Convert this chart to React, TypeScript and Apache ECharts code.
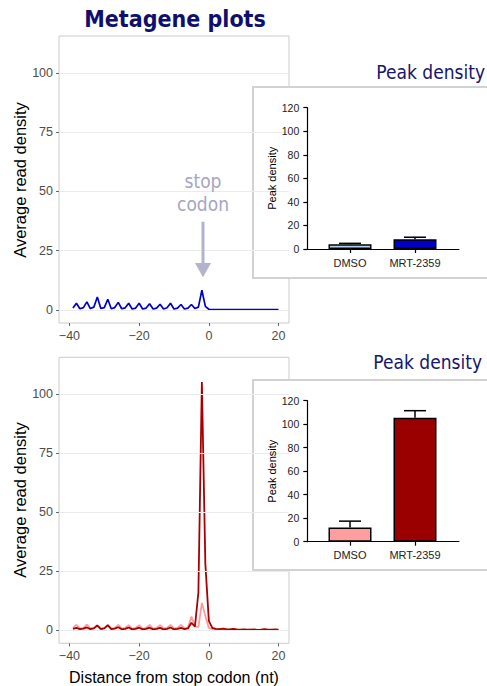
import React, { useEffect, useRef } from "react";
import * as echarts from "echarts";

// ---------- data ----------
const positions = [
  -39, -38, -37, -36, -35, -34, -33, -32, -31, -30, -29, -28, -27, -26, -25, -24, -23, -22, -21, -20,
  -19, -18, -17, -16, -15, -14, -13, -12, -11, -10, -9, -8, -7, -6, -5, -4, -3, -2, -1, 0,
  1, 2, 3, 4, 5, 6, 7, 8, 9, 10, 11, 12, 13, 14, 15, 16, 17, 18, 19, 20,
];
const topBlue = [
  0.8, 2.8, 0.5, 1.0, 3.4, 0.6, 1.2, 5.5, 0.6, 1.0, 4.5, 0.5, 1.0, 3.2, 0.5, 0.9, 2.8, 0.4, 0.8, 2.8,
  0.4, 0.8, 2.6, 0.4, 0.8, 2.4, 0.4, 0.9, 2.8, 0.4, 0.8, 2.3, 0.4, 0.8, 2.3, 0.6, 1.2, 8.3, 1.5, 0.3,
  0.2, 0.2, 0.15, 0.2, 0.15, 0.1, 0.15, 0.1, 0.15, 0.1, 0.1, 0.15, 0.1, 0.1, 0.1, 0.15, 0.1, 0.1, 0.1, 0.1,
];
const bottomDMSO = [
  1.0, 2.3, 0.8, 1.0, 2.4, 0.8, 1.0, 2.2, 0.8, 1.0, 2.0, 0.8, 1.0, 2.3, 0.8, 1.0, 2.2, 0.7, 1.0, 2.2,
  0.7, 1.0, 2.3, 0.7, 1.0, 2.2, 0.8, 1.0, 2.3, 0.8, 1.0, 2.3, 0.8, 1.2, 5.8, 1.8, 1.3, 11.6, 6.0, 1.0,
  0.5, 0.4, 0.3, 0.4, 0.3, 0.3, 0.3, 0.3, 0.2, 0.3, 0.2, 0.3, 0.2, 0.2, 0.3, 0.2, 0.2, 0.2, 0.2, 0.2,
];
const bottomMRT = [
  0.6, 1.0, 0.5, 0.7, 1.2, 0.5, 0.8, 2.0, 0.5, 0.8, 2.2, 0.5, 0.7, 1.3, 0.4, 0.6, 1.2, 0.4, 0.6, 1.1,
  0.4, 0.6, 1.1, 0.4, 0.6, 1.0, 0.4, 0.6, 1.2, 0.4, 0.6, 1.0, 0.5, 0.8, 3.2, 1.5, 16, 105, 28, 4.0,
  1.0, 0.6, 0.5, 0.7, 0.5, 0.4, 0.6, 0.4, 0.3, 0.4, 0.3, 0.3, 0.4, 0.2, 0.3, 0.5, 0.3, 0.3, 0.4, 0.3,
];
const lineXTicks = [-40, -20, 0, 20];
const lineYTicks = [0, 25, 50, 75, 100];

const barCategories = ["DMSO", "MRT-2359"];
const topBarMeans = [4.0, 8.2];
const topBarUpper = [4.8, 10.0];
const bottomBarMeans = [12.0, 105.5];
const bottomBarUpper = [17.5, 111.5];
const barYTicks = [0, 20, 40, 60, 80, 100, 120];

// ---------- styles ----------
const TITLE_FONT = '"DejaVu Sans Condensed", "DejaVu Sans", sans-serif';
const ARIAL = '"Liberation Sans", Arial, sans-serif';
const NAVY = "#0f0f6e";

const fmtMinus = (v: number) => (v < 0 ? "\u2212" + Math.abs(v) : String(v));

function lineXAxis(gridIndex: number) {
  return {
    type: "value",
    gridIndex,
    min: -43,
    max: 23,
    axisLine: { show: false, onZero: false },
    splitLine: { show: false },
    axisTick: { show: true, customValues: lineXTicks, length: 3, lineStyle: { color: "#666" } },
    axisLabel: {
      customValues: lineXTicks,
      formatter: fmtMinus,
      fontSize: 12.5,
      color: "#4d4d4d",
      fontFamily: ARIAL,
      margin: 6,
    },
  };
}
function lineYAxis(gridIndex: number) {
  return {
    type: "value",
    gridIndex,
    min: -5.5,
    max: 115.5,
    axisLine: { show: false, onZero: false },
    splitLine: { show: false },
    axisTick: { show: true, customValues: lineYTicks, length: 3, lineStyle: { color: "#666" } },
    axisLabel: {
      customValues: lineYTicks,
      fontSize: 12.5,
      color: "#4d4d4d",
      fontFamily: ARIAL,
      margin: 6,
    },
  };
}
function barXAxis(gridIndex: number) {
  return {
    type: "value",
    gridIndex,
    min: 0.343,
    max: 2.677,
    z: 10,
    axisLine: { show: true, onZero: false, lineStyle: { color: "#000", width: 1.2 } },
    splitLine: { show: false },
    axisTick: { show: true, customValues: [1, 2], length: 4, lineStyle: { color: "#000", width: 1.2 } },
    axisLabel: {
      customValues: [1, 2],
      formatter: (v: number) => barCategories[Math.round(v) - 1] ?? "",
      fontSize: 11,
      color: "#222",
      fontFamily: ARIAL,
      margin: 8,
    },
  };
}
function barYAxis(gridIndex: number) {
  return {
    type: "value",
    gridIndex,
    min: 0,
    max: 120,
    interval: 20,
    z: 10,
    axisLine: { show: true, onZero: false, lineStyle: { color: "#000", width: 1.2 } },
    splitLine: { show: false },
    axisTick: { show: true, length: 4, lineStyle: { color: "#000", width: 1.2 } },
    axisLabel: { fontSize: 10.5, color: "#222", fontFamily: ARIAL, margin: 8 },
  };
}

function gridLineSeries(xi: number, yi: number) {
  return {
    type: "line",
    xAxisIndex: xi,
    yAxisIndex: yi,
    data: [],
    z: 1,
    silent: true,
    markLine: {
      silent: true,
      symbol: ["none", "none"],
      label: { show: false },
      lineStyle: { color: "#ebebeb", width: 1, type: "solid" },
      emphasis: { disabled: true },
      data: lineYTicks.map((v) => ({ yAxis: v })),
    },
  };
}

function pairs(ys: number[]) {
  return positions.map((x, i) => [x, ys[i]]);
}

function errorSeries(xi: number, yi: number, means: number[], upper: number[]) {
  return {
    type: "custom",
    xAxisIndex: xi,
    yAxisIndex: yi,
    z: 11,
    silent: true,
    data: means.map((m, i) => [i + 1, m, upper[i]]),
    renderItem: (params: any, api: any) => {
      const x = api.value(0);
      const lo = api.coord([x, api.value(1)]);
      const hi = api.coord([x, api.value(2)]);
      const half = 11;
      const st = { stroke: "#000", lineWidth: 1.5 };
      return {
        type: "group",
        children: [
          { type: "line", shape: { x1: lo[0], y1: lo[1], x2: hi[0], y2: hi[1] }, style: st },
          { type: "line", shape: { x1: hi[0] - half, y1: hi[1], x2: hi[0] + half, y2: hi[1] }, style: st },
        ],
      };
    },
  };
}

function barSeries(xi: number, yi: number, means: number[], colors: string[]) {
  return {
    type: "bar",
    xAxisIndex: xi,
    yAxisIndex: yi,
    z: 10,
    barWidth: 43,
    data: means.map((m, i) => ({
      value: [i + 1, m],
      itemStyle: { color: colors[i], borderColor: "#000", borderWidth: 1.5 },
    })),
  };
}

export default function App() {
  const ref = useRef<HTMLDivElement>(null);
  useEffect(() => {
    if (!ref.current) return;
    const chart = echarts.init(ref.current, undefined, { renderer: "svg" });
    const option: any = {
      animation: false,
      backgroundColor: "#ffffff",
      grid: [
        { left: 59, top: 36, width: 230, height: 287, show: true, borderColor: "#cccccc", borderWidth: 1, backgroundColor: "transparent" },
        { left: 59, top: 357.3, width: 230, height: 286, show: true, borderColor: "#cccccc", borderWidth: 1, backgroundColor: "transparent" },
        { left: 307.3, top: 107.7, width: 151.7, height: 141.3 },
        { left: 307.3, top: 400.7, width: 151.7, height: 141 },
      ],
      xAxis: [lineXAxis(0), lineXAxis(1), barXAxis(2), barXAxis(3)],
      yAxis: [lineYAxis(0), lineYAxis(1), barYAxis(2), barYAxis(3)],
      series: [
        gridLineSeries(0, 0),
        gridLineSeries(1, 1),
        {
          type: "line",
          xAxisIndex: 0,
          yAxisIndex: 0,
          z: 3,
          showSymbol: false,
          data: pairs(topBlue),
          lineStyle: { color: "#0000cd", width: 1.7 },
        },
        {
          type: "line",
          xAxisIndex: 1,
          yAxisIndex: 1,
          z: 3,
          showSymbol: false,
          data: pairs(bottomDMSO),
          lineStyle: { color: "#ff9a9a", width: 1.8 },
        },
        {
          type: "line",
          xAxisIndex: 1,
          yAxisIndex: 1,
          z: 4,
          showSymbol: false,
          data: pairs(bottomMRT),
          lineStyle: { color: "#a80000", width: 1.8 },
        },
        barSeries(2, 2, topBarMeans, ["#b7d2f0", "#0000c8"]),
        errorSeries(2, 2, topBarMeans, topBarUpper),
        barSeries(3, 3, bottomBarMeans, ["#ff9e9e", "#9b0000"]),
        errorSeries(3, 3, bottomBarMeans, bottomBarUpper),
      ],
      graphic: [
        {
          type: "text",
          x: 175,
          y: 19,
          z: 20,
          style: { text: "Metagene plots", fill: NAVY, font: `bold 23px ${TITLE_FONT}`, align: "center", verticalAlign: "middle" },
        },
        {
          type: "text",
          x: 20,
          y: 180,
          rotation: Math.PI / 2,
          z: 20,
          style: { text: "Average read density", fill: "#000", font: `16.5px ${ARIAL}`, align: "center", verticalAlign: "middle" },
        },
        {
          type: "text",
          x: 20,
          y: 500,
          rotation: Math.PI / 2,
          z: 20,
          style: { text: "Average read density", fill: "#000", font: `16.5px ${ARIAL}`, align: "center", verticalAlign: "middle" },
        },
        {
          type: "text",
          x: 174,
          y: 677,
          z: 20,
          style: { text: "Distance from stop codon (nt)", fill: "#000", font: `16px ${ARIAL}`, align: "center", verticalAlign: "middle" },
        },
        // stop codon annotation
        { type: "rect", z: 3, shape: { x: 176, y: 170, width: 54, height: 44 }, style: { fill: "#fff" } },
        {
          type: "text",
          x: 203,
          y: 181,
          z: 20,
          style: { text: "stop", fill: "#a5a5c4", font: `19px ${TITLE_FONT}`, align: "center", verticalAlign: "middle" },
        },
        {
          type: "text",
          x: 203,
          y: 203.5,
          z: 20,
          style: { text: "codon", fill: "#a5a5c4", font: `19px ${TITLE_FONT}`, align: "center", verticalAlign: "middle" },
        },
        { type: "rect", z: 20, shape: { x: 201.5, y: 221.7, width: 3, height: 42 }, style: { fill: "#b3b3cc" } },
        {
          type: "polygon",
          z: 20,
          shape: { points: [[195, 263], [211, 263], [203, 277.3]] },
          style: { fill: "#b3b3cc" },
        },
        // inset boxes
        { type: "rect", z: 5, shape: { x: 253, y: 87, width: 260, height: 191 }, style: { fill: "#fff", stroke: "#d2d2d2", lineWidth: 2 } },
        { type: "rect", z: 5, shape: { x: 253, y: 380, width: 260, height: 190 }, style: { fill: "#fff", stroke: "#d2d2d2", lineWidth: 2 } },
        {
          type: "text",
          x: 485,
          y: 72,
          z: 20,
          style: { text: "Peak density", fill: "#16166e", font: `19px ${TITLE_FONT}`, align: "right", verticalAlign: "middle" },
        },
        {
          type: "text",
          x: 482,
          y: 362,
          z: 20,
          style: { text: "Peak density", fill: "#16166e", font: `19px ${TITLE_FONT}`, align: "right", verticalAlign: "middle" },
        },
        {
          type: "text",
          x: 272,
          y: 178.3,
          rotation: Math.PI / 2,
          z: 20,
          style: { text: "Peak density", fill: "#000", font: `11px ${ARIAL}`, align: "center", verticalAlign: "middle" },
        },
        {
          type: "text",
          x: 272,
          y: 471.2,
          rotation: Math.PI / 2,
          z: 20,
          style: { text: "Peak density", fill: "#000", font: `11px ${ARIAL}`, align: "center", verticalAlign: "middle" },
        },
      ],
    };
    chart.setOption(option);
    return () => chart.dispose();
  }, []);
  return (
    <div
      ref={ref}
      style={{ position: "fixed", left: 0, top: 0, width: 487, height: 686, background: "#fff" }}
    />
  );
}
